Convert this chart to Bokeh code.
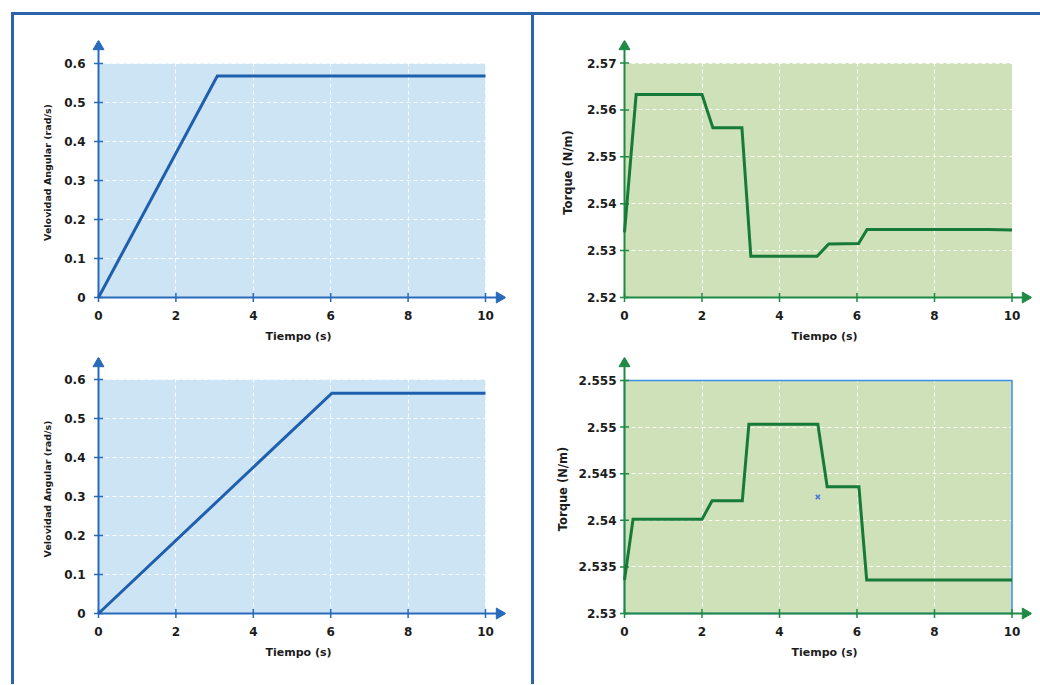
import math
from bokeh.plotting import figure
from bokeh.layouts import row, column
from bokeh.models import Range1d, FixedTicker, NumeralTickFormatter
from bokeh.embed import file_html
from bokeh.resources import INLINE

# ---------------- data ----------------
x_ticks = [0, 2, 4, 6, 8, 10]

vel_a_t = [0, 3.07, 10]
vel_a_w = [0, 0.568, 0.568]
vel_b_t = [0, 6.03, 10]
vel_b_w = [0, 0.565, 0.565]
vel_ticks = [0, 0.1, 0.2, 0.3, 0.4, 0.5, 0.6]

tq_a_t = [0, 0.3, 2.0, 2.28, 3.03, 3.26, 4.97, 5.27, 6.04, 6.26, 9.4, 10]
tq_a_v = [2.5339, 2.5633, 2.5633, 2.5562, 2.5562, 2.5288, 2.5288, 2.5314,
          2.5315, 2.5345, 2.5345, 2.5344]
tq_a_ticks = [2.52, 2.53, 2.54, 2.55, 2.56, 2.57]

tq_b_t = [0, 0.22, 2.0, 2.26, 3.04, 3.21, 4.99, 5.23, 6.05, 6.25, 10]
tq_b_v = [2.5336, 2.5401, 2.5401, 2.5421, 2.5421, 2.5503, 2.5503, 2.5436,
          2.5436, 2.5336, 2.5336]
tq_b_ticks = [2.53, 2.535, 2.54, 2.545, 2.55, 2.555]

mark_t = [4.99]
mark_v = [2.5425]

x_label = "Tiempo (s)"
vel_label = "Velovidad Angular (rad/s)"
tq_label = "Torque (N/m)"

# ---------------- styles ----------------
BLUE_LINE = "#1f5fae"
BLUE_AXIS = "#2a6abb"
BLUE_FILL = "#cde4f5"
GREEN_LINE = "#167a38"
GREEN_AXIS = "#1f8a45"
GREEN_FILL = "#cfe1b9"
FRAME = "#2c63ad"
FONT = "DejaVu Sans"
PAD = 7  # px of frame left of / below the axis lines, so arrow heads are not clipped


def make_chart(t, v, yticks, y_lo, y_hi, yscale, xscale, ylabel, line_c, axis_c, fill_c,
               fw, fh, bl, br, bt, bb, tick_gap, label_standoff, ylabel_size,
               outline=None):
    x_start = -PAD / xscale
    x_end = fw / xscale
    y_start = y_lo - PAD / yscale
    y_end = y_lo + fh / yscale
    p = figure(frame_width=fw + PAD, frame_height=fh + PAD, title=None,
               x_range=Range1d(x_start, x_end), y_range=Range1d(y_start, y_end),
               output_backend="svg", toolbar_location=None,
               min_border_left=bl - PAD, min_border_right=br,
               min_border_top=bt, min_border_bottom=bb - PAD)
    p.outline_line_color = None
    p.background_fill_color = "white"
    p.border_fill_color = "white"

    # coloured data area
    p.quad(left=[x_ticks[0]], right=[x_ticks[-1]], bottom=[y_lo], top=[y_hi],
           fill_color=fill_c, line_color=None, level="image")
    if outline:
        p.quad(left=[x_ticks[0]], right=[x_ticks[-1]], bottom=[y_lo], top=[y_hi],
               fill_color=None, line_color=outline, line_width=1.5)

    # axis lines with arrow heads and crossing ticks (drawn in data space)
    y_tip = y_end - 6.0 / yscale
    x_tip = x_end - 6.0 / xscale
    p.segment(x0=[0, 0], y0=[y_lo, y_lo], x1=[0, x_tip], y1=[y_tip, y_lo],
              line_color=axis_c, line_width=2)
    p.scatter(x=[0] * len(yticks), y=yticks, marker="dash", size=9,
              line_color=axis_c, line_width=1.5)
    p.scatter(x=x_ticks, y=[y_lo] * len(x_ticks), marker="dash", size=9,
              angle=math.pi / 2, line_color=axis_c, line_width=1.5)
    p.scatter(x=[0], y=[y_tip], marker="triangle", size=11, angle=0,
              fill_color=axis_c, line_color=axis_c)
    p.scatter(x=[x_tip], y=[y_lo], marker="triangle", size=11, angle=-math.pi / 2,
              fill_color=axis_c, line_color=axis_c)

    p.line(t, v, line_color=line_c, line_width=3, line_join="miter")

    # label-only axes at the frame edges
    for ax in (p.xaxis[0], p.yaxis[0]):
        ax.axis_line_color = None
        ax.major_tick_line_color = None
        ax.major_tick_in = 0
        ax.major_tick_out = 0
        ax.minor_tick_line_color = None
        ax.major_label_text_font = FONT
        ax.major_label_text_font_style = "bold"
        ax.major_label_text_font_size = "12px"
        ax.major_label_text_color = "#1c1c1c"
        ax.axis_label_text_font = FONT
        ax.axis_label_text_font_style = "bold"
        ax.axis_label_text_color = "#1c1c1c"
        ax.formatter = NumeralTickFormatter(format="0.[000]")

    p.xaxis.ticker = FixedTicker(ticks=x_ticks)
    p.yaxis.ticker = FixedTicker(ticks=yticks)
    p.xaxis.major_label_standoff = 6
    p.yaxis.major_label_standoff = tick_gap
    p.xaxis.axis_label = x_label
    p.xaxis.axis_label_text_font_size = "11px"
    p.xaxis.axis_label_standoff = 7
    p.yaxis.axis_label = ylabel
    p.yaxis.axis_label_text_font_size = ylabel_size
    p.yaxis.axis_label_standoff = label_standoff

    for g in (p.xgrid[0], p.ygrid[0]):
        g.grid_line_color = "white"
        g.grid_line_dash = "4 3"
        g.grid_line_width = 1
        g.grid_line_alpha = 0.9
    return p


p1 = make_chart(vel_a_t, vel_a_w, vel_ticks, 0, 0.6, 390, 38.7,
                vel_label, BLUE_LINE, BLUE_AXIS, BLUE_FILL,
                407, 257, 84, 26, 25, 52, 6, 8, "9.5px")
p2 = make_chart(vel_b_t, vel_b_w, vel_ticks, 0, 0.6, 390, 38.7,
                vel_label, BLUE_LINE, BLUE_AXIS, BLUE_FILL,
                407, 256, 84, 26, 8, 71, 6, 8, "9.5px")
p3 = make_chart(tq_a_t, tq_a_v, tq_a_ticks, 2.52, 2.57, 4688, 38.75,
                tq_label, GREEN_LINE, GREEN_AXIS, GREEN_FILL,
                407, 257, 90, 9, 25, 52, 1, 9, "11.5px")
p4 = make_chart(tq_b_t, tq_b_v, tq_b_ticks, 2.53, 2.555, 9320, 38.75,
                tq_label, GREEN_LINE, GREEN_AXIS, GREEN_FILL,
                407, 256, 90, 9, 8, 71, 1, 6, "11.5px", outline="#3d8ee8")
p4.scatter(mark_t, mark_v, marker="x", size=6, line_color="#4a78e0", line_width=1.5)

left = column(p1, p2, styles={"border-top": f"3px solid {FRAME}",
                              "border-left": f"3px solid {FRAME}",
                              "border-right": f"3px solid {FRAME}",
                              "margin-left": "11px", "margin-top": "12px"})
right = column(p3, p4, styles={"border-top": f"3px solid {FRAME}",
                               "margin-top": "12px"})
layout = row(left, right)

open("out.html", "w").write(file_html(layout, INLINE))
